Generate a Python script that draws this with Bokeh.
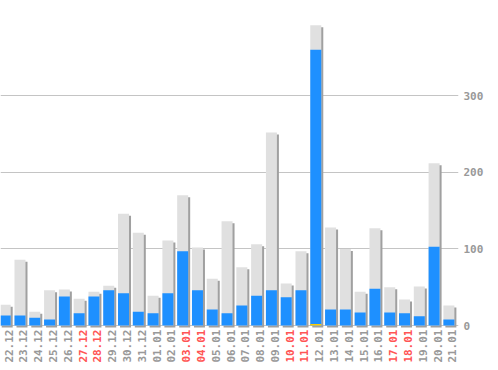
import numpy as np
from bokeh.plotting import figure
from bokeh.models import FixedTicker, Range1d, ColumnDataSource
from bokeh.core.properties import value
from bokeh.embed import file_html
from bokeh.resources import INLINE

dates = ["22.12", "23.12", "24.12", "25.12", "26.12", "27.12", "28.12", "29.12",
         "30.12", "31.12", "01.01", "02.01", "03.01", "04.01", "05.01", "06.01",
         "07.01", "08.01", "09.01", "10.01", "11.01", "12.01", "13.01", "14.01",
         "15.01", "16.01", "17.01", "18.01", "19.01", "20.01", "21.01"]
total = [27, 86, 18, 46, 47, 35, 44, 52, 146, 121, 39, 111, 170, 102, 61, 136,
         76, 106, 252, 55, 97, 392, 128, 100, 44, 127, 50, 34, 51, 212, 26]
blue = [13, 13, 10, 8, 38, 16, 38, 46, 42, 18, 16, 42, 97, 46, 21, 16,
        26, 39, 46, 37, 46, 360, 21, 21, 17, 48, 17, 16, 12, 103, 8]
yellow = [0, 0, 0, 0, 0, 0, 0, 0, 0, 0, 0, 0, 0, 0, 0, 0,
          0, 0, 0, 0, 0, 2, 0, 0, 0, 0, 0, 0, 0, 0, 0]
red_dates = ["27.12", "28.12", "03.01", "04.01", "10.01", "11.01", "17.01", "18.01"]
y_ticks = [0, 100, 200, 300]

W, H = 490, 362
RB = 32
x0, x1 = -0.318, 30.65
y0, y1 = -48.3, 424.4
bw = 0.744

xs = np.arange(len(dates))
ppx = (W - RB) / (x1 - x0)
dx = 2 / ppx
dy = 2 * (y1 - y0) / H

src = ColumnDataSource(dict(
    x=xs, total=total, blue=blue, yellow=yellow, dates=dates,
    sl=xs - bw / 2 + dx, sr=xs + bw / 2 + dx,
    st=np.array(total) - dy, sb=np.full(len(xs), -dy),
    col=["#ff5555" if d in red_dates else "#999999" for d in dates],
))

p = figure(width=W, height=H, x_range=Range1d(x0, x1), y_range=Range1d(y0, y1),
           output_backend="svg", toolbar_location=None,
           x_axis_location=None, y_axis_location="right",
           min_border_left=0, min_border_top=0, min_border_bottom=0,
           min_border_right=RB)
p.outline_line_color = None
p.background_fill_color = "white"
p.border_fill_color = "white"
p.xgrid.visible = False
p.ygrid.grid_line_color = "#c4c4c4"
p.ygrid.ticker = FixedTicker(ticks=y_ticks)
p.yaxis.ticker = FixedTicker(ticks=y_ticks)
p.yaxis.axis_line_color = None
p.yaxis.major_tick_line_color = None
p.yaxis.minor_tick_line_color = None
p.yaxis.major_tick_out = 0
p.yaxis.major_tick_in = 0
p.yaxis.major_label_standoff = 5
p.yaxis.major_label_text_font = "DejaVu Sans Mono"
p.yaxis.major_label_text_font_size = "11px"
p.yaxis.major_label_text_font_style = "bold"
p.yaxis.major_label_text_color = "#999999"

p.quad(left="sl", right="sr", top="st", bottom="sb", source=src,
       fill_color="#a0a0a0", line_color=None)
p.vbar(x="x", top="total", bottom=0, width=bw, source=src,
       fill_color="#e0e0e0", line_color=None)
p.vbar(x="x", top="blue", bottom=0, width=bw, source=src,
       fill_color="#1e90ff", line_color=None)
p.vbar(x="x", top="yellow", bottom=0, width=bw, source=src,
       fill_color="#ffcc00", line_color=None)

p.text(x="x", y=0, text="dates", source=src, angle=np.pi / 2,
       text_align="right", text_baseline="middle", x_offset=3.5, y_offset=4,
       text_color="col", text_font=value("DejaVu Sans Mono"),
       text_font_size="11px", text_font_style="bold")

open("out.html", "w").write(file_html(p, INLINE))
